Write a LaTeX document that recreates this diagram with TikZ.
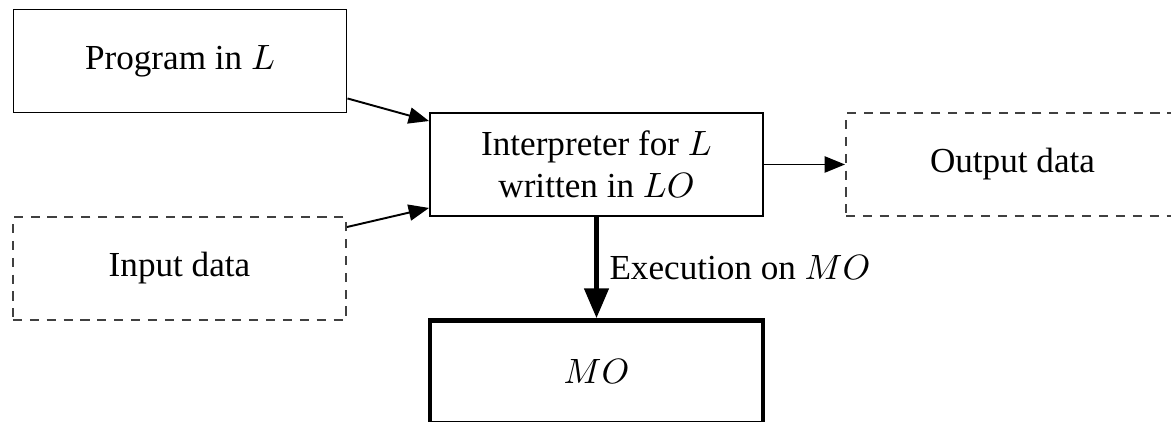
\documentclass[tikz,border=0pt]{standalone}
\usepackage{fontspec}
\setmainfont{Liberation Serif}
\usetikzlibrary{arrows.meta, positioning}

\begin{document}
\begin{tikzpicture}[
  line width=0.55pt,
  box/.style={draw, minimum width=3.33cm, minimum height=1.03cm, align=center, inner sep=2pt},
  databox/.style={box, draw=black!75, dash pattern=on 2.6pt off 2.2pt},
  machine/.style={box, line width=1.3pt},
  flow/.style={-{Triangle[length=5.8pt, width=4.6pt]}},
  exec/.style={line width=1.4pt, -{Triangle[length=8.5pt, width=6.8pt]}}
]
  \useasboundingbox (0,0) rectangle (11.71,4.22);

  % boxes
  \node[box] (prog) at (1.80,3.61) {Program in $L$};
  \node[databox] (input) at (1.795,1.535) {Input data};
  \node[box] (interp) at (5.965,2.575) {Interpreter for $L$\\written in $LO$};
  \node[databox] (output) at (10.125,2.575) {Output data};
  \node[machine] (mo) at (5.965,0.50) {$MO$};

  % connectors
  \draw[flow] ([yshift=0.15cm]prog.south east) -- ([yshift=-0.09cm]interp.north west);
  \draw[flow] ([yshift=-0.11cm]input.north east) -- ([yshift=0.09cm]interp.south west);
  \draw[flow] (interp.east) -- (output.west);
  \draw[exec] (interp.south) -- (mo.north)
    node[midway, right, inner sep=3pt] {Execution on $MO$};
\end{tikzpicture}
\end{document}
